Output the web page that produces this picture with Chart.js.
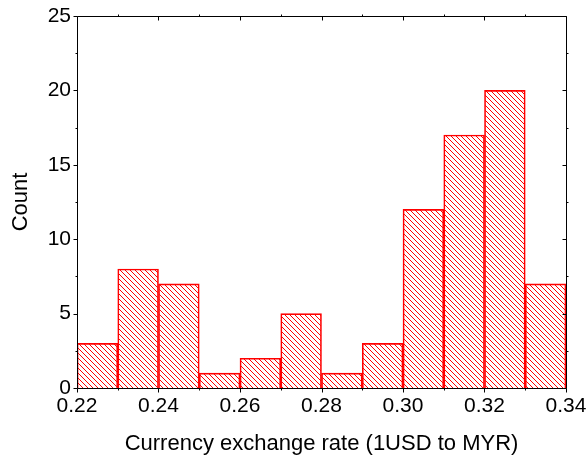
<!DOCTYPE html>
<html>
<head>
<meta charset="utf-8">
<script src="https://cdn.jsdelivr.net/npm/chart.js@4/dist/chart.umd.min.js"></script>
<style>
  html, body { margin: 0; padding: 0; background: #fff; }
  #wrap { width: 588px; height: 457px; }
</style>
</head>
<body>
<div id="wrap"><canvas id="c" width="588" height="457"></canvas></div>
<script>
// Histogram of USD→MYR exchange rates, bin width 0.01
const binStarts = [0.22, 0.23, 0.24, 0.25, 0.26, 0.27, 0.28, 0.29, 0.30, 0.31, 0.32, 0.33];
const counts    = [3, 8, 7, 1, 2, 5, 1, 3, 12, 17, 20, 7];
const binWidth = 0.01;
const xMajorTicks = [0.22, 0.24, 0.26, 0.28, 0.30, 0.32, 0.34];
const xMinorTicks = [0.23, 0.25, 0.27, 0.29, 0.31, 0.33];
const yMajorTicks = [0, 5, 10, 15, 20, 25];
const yMinorTicks = [2.5, 7.5, 12.5, 17.5, 22.5];

const RED = 'rgb(255,0,0)';
const FONT = "'Liberation Sans', Arial, sans-serif";

// diagonal hatch fill "\\\\"
function makeHatch() {
  const s = 5;
  const t = document.createElement('canvas');
  t.width = s; t.height = s;
  const g = t.getContext('2d');
  g.strokeStyle = RED;
  g.lineWidth = 1;
  g.beginPath();
  g.moveTo(-1, -1); g.lineTo(s + 1, s + 1);
  g.moveTo(-1, s - 1); g.lineTo(1, s + 1);
  g.moveTo(s - 1, -1); g.lineTo(s + 1, 1);
  g.stroke();
  return document.getElementById('c').getContext('2d').createPattern(t, 'repeat');
}

const points = binStarts.map((b, i) => ({ x: +(b + binWidth / 2).toFixed(3), y: counts[i] }));

// frame and tick marks drawn on the chart's own scales
const framePlugin = {
  id: 'frame',
  afterDraw(chart) {
    const { ctx, chartArea: a, scales: { x, y } } = chart;
    ctx.save();
    ctx.strokeStyle = '#000';
    ctx.lineWidth = 1;
    ctx.beginPath();
    ctx.rect(Math.round(a.left) + 0.5, Math.round(a.top) + 0.5,
             Math.round(a.right - a.left), Math.round(a.bottom - a.top));
    ctx.stroke();
    const L = Math.round(a.left) + 0.5, R = Math.round(a.right) + 0.5;
    const T = Math.round(a.top) + 0.5, B = Math.round(a.bottom) + 0.5;
    ctx.beginPath();
    xMajorTicks.forEach(v => {
      const px = Math.round(x.getPixelForValue(v)) + 0.5;
      ctx.moveTo(px, B); ctx.lineTo(px, B + 4);
      ctx.moveTo(px, T); ctx.lineTo(px, T + 4);
    });
    xMinorTicks.forEach(v => {
      const px = Math.round(x.getPixelForValue(v)) + 0.5;
      ctx.moveTo(px, B); ctx.lineTo(px, B + 2);
      ctx.moveTo(px, T); ctx.lineTo(px, T - 2);
    });
    yMajorTicks.forEach(v => {
      const py = Math.round(y.getPixelForValue(v)) + 0.5;
      ctx.moveTo(L, py); ctx.lineTo(L - 4, py);
      ctx.moveTo(R, py); ctx.lineTo(R - 4, py);
    });
    yMinorTicks.forEach(v => {
      const py = Math.round(y.getPixelForValue(v)) + 0.5;
      ctx.moveTo(L, py); ctx.lineTo(L - 2, py);
      ctx.moveTo(R, py); ctx.lineTo(R + 2, py);
    });
    ctx.stroke();
    ctx.restore();
  }
};

new Chart(document.getElementById('c'), {
  type: 'bar',
  data: {
    datasets: [{
      data: points,
      backgroundColor: makeHatch(),
      borderColor: RED,
      borderWidth: 1,
      barPercentage: 1,
      categoryPercentage: 1
    }]
  },
  options: {
    responsive: false,
    animation: false,
    devicePixelRatio: 1,
    layout: { padding: { top: 16, right: 22, left: 0, bottom: 0 } },
    plugins: { legend: { display: false }, tooltip: { enabled: false } },
    scales: {
      x: {
        type: 'linear',
        min: 0.22, max: 0.34,
        offset: false,
        grid: { display: false, drawTicks: false },
        border: { display: false },
        afterBuildTicks(s) { s.ticks = xMajorTicks.map(v => ({ value: v })); },
        afterFit(s) { s.height = 69; s.paddingRight = 0; s.paddingLeft = 0; },
        ticks: {
          color: '#000',
          padding: 6,
          font: { family: FONT, size: 21 },
          callback: v => Number(v).toFixed(2)
        },
        title: {
          display: true,
          text: 'Currency exchange rate (1USD to MYR)',
          color: '#000',
          font: { family: FONT, size: 22 },
          padding: { top: 3, bottom: 0 }
        }
      },
      y: {
        min: 0, max: 25,
        grid: { display: false, drawTicks: false },
        border: { display: false },
        afterBuildTicks(s) { s.ticks = yMajorTicks.map(v => ({ value: v })); },
        afterFit(s) { s.width = 77; s.paddingTop = 0; s.paddingBottom = 0; },
        ticks: {
          color: '#000',
          padding: 6,
          font: { family: FONT, size: 21 }
        },
        title: {
          display: true,
          text: 'Count',
          color: '#000',
          font: { family: FONT, size: 22 },
          padding: { top: 8, bottom: 8 }
        }
      }
    }
  },
  plugins: [framePlugin]
});
</script>
</body>
</html>
